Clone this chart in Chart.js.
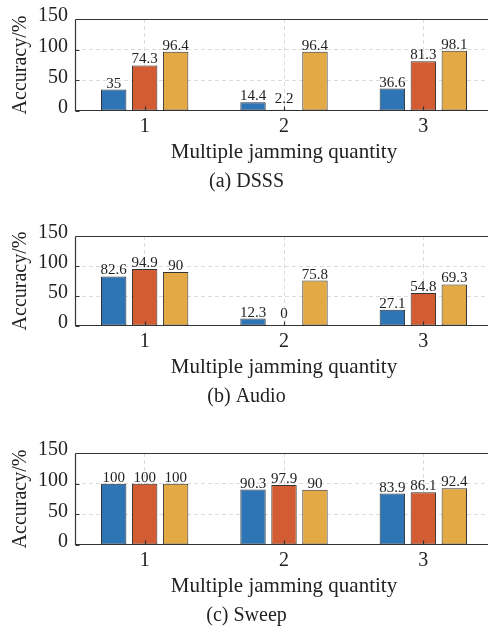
<!DOCTYPE html>
<html>
<head>
<meta charset="utf-8">
<script src="https://cdn.jsdelivr.net/npm/chart.js@4/dist/chart.umd.min.js"></script>
<style>
  html, body { margin: 0; padding: 0; background: #fff; }
  #wrap { position: relative; width: 488px; height: 629px; overflow: hidden; }
  canvas { position: absolute; left: 0; }
</style>
</head>
<body>
<div id="wrap">
  <canvas id="c1"></canvas>
  <canvas id="c2"></canvas>
  <canvas id="c3"></canvas>
</div>
<script>
"use strict";
const categories = ["1", "2", "3"];
const yTicks = [0, 50, 100, 150];

// (a) DSSS
const dsssBlue = [35, 14.4, 36.6];
const dsssOrange = [74.3, 2.2, 81.3];
const dsssYellow = [96.4, 96.4, 98.1];
// (b) Audio
const audioBlue = [82.6, 12.3, 27.1];
const audioOrange = [94.9, 0, 54.8];
const audioYellow = [90, 75.8, 69.3];
// (c) Sweep
const sweepBlue = [100, 90.3, 83.9];
const sweepOrange = [100, 97.9, 86.1];
const sweepYellow = [100, 90, 92.4];

const FONT = "'Liberation Serif', 'Times New Roman', serif";
const TEXT = "#222";
const colors = ["#2E75B5", "#D35C33", "#E2A944"];

// frame, inward ticks, value labels above bars
const frame = {
  id: "frame",
  afterDatasetsDraw(chart) {
    const { ctx, chartArea: a, scales } = chart;
    const L = Math.round(a.left) + 0.5;
    const B = Math.round(a.bottom) - 0.5;
    const T = Math.round(a.top) + 0.5;
    ctx.save();
    ctx.strokeStyle = "#333";
    ctx.lineWidth = 1.2;
    ctx.beginPath();
    yTicks.forEach((v) => {
      const y = Math.round(scales.y.getPixelForValue(v)) + 0.5;
      ctx.moveTo(L, y);
      ctx.lineTo(L + 4, y);
    });
    categories.forEach((c, i) => {
      const x = Math.round(scales.x.getPixelForValue(i)) + 0.5;
      ctx.moveTo(x, B);
      ctx.lineTo(x, B - 4);
    });
    ctx.moveTo(L, T);
    ctx.lineTo(L, B);
    ctx.lineTo(a.right, B);
    ctx.lineTo(a.right, T);
    ctx.lineTo(L, T);
    ctx.stroke();

    ctx.font = "15px " + FONT;
    ctx.fillStyle = TEXT;
    ctx.textAlign = "center";
    ctx.textBaseline = "alphabetic";
    chart.data.datasets.forEach((ds, di) => {
      chart.getDatasetMeta(di).data.forEach((bar, i) => {
        const y = Math.min(bar.y - 2, bar.base - 8);
        ctx.fillText(String(ds.data[i]), bar.x, y);
      });
    });
    ctx.restore();
  },
};

function makeChart(id, top, plotH, caption, blue, orange, yellow) {
  const canvas = document.getElementById(id);
  canvas.width = 500;
  canvas.height = 105 + plotH;
  canvas.style.top = top + "px";
  const tickFont = { family: FONT, size: 20 };
  return new Chart(canvas, {
    type: "bar",
    data: {
      labels: categories,
      datasets: [
        { data: blue, backgroundColor: colors[0] },
        { data: orange, backgroundColor: colors[1] },
        { data: yellow, backgroundColor: colors[2] },
      ],
    },
    options: {
      responsive: false,
      animation: false,
      layout: { padding: { top: 17, right: 7, left: 0, bottom: 5 } },
      datasets: {
        bar: {
          borderColor: "#333",
          borderWidth: 1,
          borderSkipped: false,
          categoryPercentage: 0.667,
          barPercentage: 0.82,
        },
      },
      plugins: {
        legend: { display: false },
        tooltip: { enabled: false },
        title: {
          display: true,
          position: "bottom",
          text: caption,
          color: TEXT,
          font: { family: FONT, size: 20, weight: "normal" },
          padding: { top: 5, bottom: 0 },
        },
      },
      scales: {
        x: {
          grid: { offset: false, color: "#dcdcdc", drawTicks: false },
          border: { display: false, dash: [4, 3] },
          ticks: { padding: 4, color: TEXT, font: tickFont },
          title: {
            display: true,
            text: "Multiple jamming quantity",
            color: TEXT,
            font: { family: FONT, size: 21 },
            padding: { top: 0, bottom: 0 },
          },
          afterFit(s) {
            s.height = 54;
          },
        },
        y: {
          min: 0,
          max: 150,
          ticks: { stepSize: 50, padding: 7, labelOffset: -3, color: TEXT, font: tickFont },
          grid: {
            color: (c) => (c.tick && (c.tick.value === 0 || c.tick.value === 150) ? "rgba(0,0,0,0)" : "#dcdcdc"),
            drawTicks: false,
          },
          border: { display: false, dash: [4, 3] },
          title: {
            display: true,
            text: "Accuracy/%",
            color: TEXT,
            font: tickFont,
            padding: { top: 9, bottom: 0 },
          },
          afterFit(s) {
            s.width = 75;
          },
        },
      },
    },
    plugins: [frame],
  });
}

makeChart("c1", 0, 94, "(a) DSSS", dsssBlue, dsssOrange, dsssYellow);
makeChart("c2", 217, 92, "(b) Audio", audioBlue, audioOrange, audioYellow);
makeChart("c3", 434, 94, "(c) Sweep", sweepBlue, sweepOrange, sweepYellow);
</script>
</body>
</html>
